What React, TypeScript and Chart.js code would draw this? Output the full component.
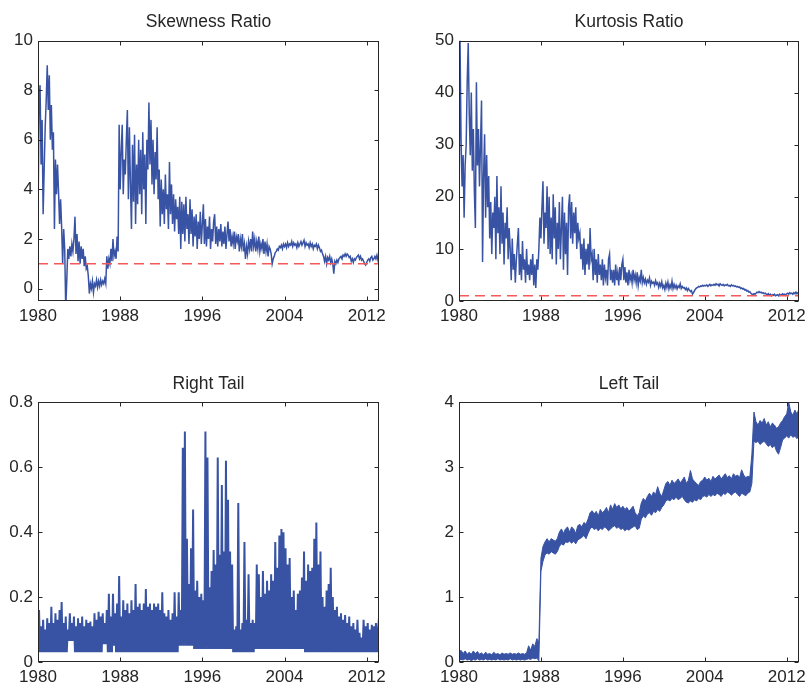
import React, { useEffect, useRef } from 'react';
import { Chart, registerables } from 'chart.js';

Chart.register(...registerables);

// Sampling grids of the series (years)
const FIRST_YEAR = 1980;
const LAST_YEAR = 2013.2;
const FINE_STEP = 0.1;
const COARSE_STEP = 0.2;

const yearTicks = [1980, 1988, 1996, 2004, 2012];
const skewTicks = [0, 2, 4, 6, 8, 10];
const kurtTicks = [0, 10, 20, 30, 40, 50];
const rightTailTicks = [0, 0.2, 0.4, 0.6, 0.8];
const leftTailTicks = [0, 1, 2, 3, 4];
const referenceLevel = 1;

const titles = ['Skewness Ratio', 'Kurtosis Ratio', 'Right Tail', 'Left Tail'];

// one row per year, sampled every 0.1 year
const skewnessRatio = [
  2.5, 7.6, 8.2, 5.0, 6.8, 3.0, 4.8, 6.5, 7.6, 9.0,
  7.2, 8.6, 6.0, 7.4, 5.6, 6.3, 2.4, 5.2, 3.8, 5.0,
  3.9, 2.6, 3.6, 2.5, 1.0, 2.4, 1.6, -0.8, 0.3, 1.6,
  1.2, 1.7, 1.3, 1.8, 1.5, 2.0, 2.9, 1.4, 2.2, 1.1,
  1.9, 1.0, 1.7, 1.2, 1.6, 0.9, 1.3, 0.8, 0.9, 0.5,
  -0.2, 0.2, 0.0, 0.3, -0.15, 0.2, 0.1, 0.35, 0.05, 0.3,
  0.1, 0.35, 0.15, 0.3, 0.2, 0.4, 0.2, 1.3, 0.8, 1.2,
  1.0, 1.6, 1.1, 2.0, 1.3, 1.5, 1.2, 2.1, 1.5, 6.6,
  4.0, 5.5, 6.6, 3.8, 5.2, 4.6, 6.0, 7.2, 3.6, 6.5,
  4.2, 2.4, 5.8, 3.5, 6.2, 2.6, 5.0, 3.4, 6.0, 3.8,
  5.6, 3.0, 6.3, 4.0, 5.4, 2.6, 6.0, 4.8, 7.5, 5.0,
  6.8, 4.2, 6.0, 3.8, 5.5, 4.4, 6.5, 3.6, 4.8, 2.5,
  4.4, 3.0, 4.0, 2.6, 4.6, 3.2, 3.8, 2.4, 5.1, 3.0,
  4.2, 2.6, 3.8, 2.3, 3.6, 2.8, 3.3, 2.2, 3.7, 1.6,
  3.5, 2.2, 3.4, 1.9, 3.7, 2.4, 3.0, 1.8, 3.6, 2.2,
  3.2, 1.7, 2.9, 2.1, 3.0, 1.6, 2.7, 2.0, 3.1, 1.8,
  2.6, 3.4, 1.8, 2.8, 1.7, 2.5, 2.0, 2.9, 1.6, 2.4,
  1.9, 2.7, 3.0, 1.8, 2.5, 1.7, 2.4, 1.9, 2.6, 1.7,
  2.3, 1.8, 2.5, 1.6, 2.2, 2.7, 1.9, 2.4, 1.7, 2.1,
  1.8, 2.3, 1.6, 2.1, 1.9, 2.2, 1.5, 2.0, 1.7, 2.2,
  1.5, 1.8, 1.2, 1.7, 1.4, 1.9, 1.6, 2.0, 1.5, 2.3,
  1.7, 2.0, 1.5, 1.9, 1.6, 2.1, 1.5, 1.8, 1.6, 2.0,
  1.4, 1.9, 1.5, 1.8, 1.3, 1.7, 1.6, 1.4, 1.0, 1.2,
  1.3, 1.45, 1.5, 1.6, 1.55, 1.7, 1.65, 1.75, 1.6, 1.8,
  1.7, 1.8, 1.65, 1.85, 1.7, 1.8, 1.75, 1.9, 1.7, 1.85,
  1.75, 1.8, 1.65, 1.85, 1.7, 1.8, 1.9, 1.75, 1.85, 1.95,
  1.7, 1.85, 1.75, 1.8, 1.65, 1.85, 1.7, 1.8, 1.6, 1.75,
  1.7, 1.8, 1.6, 1.75, 1.65, 1.5, 1.55, 1.4, 1.3, 1.1,
  1.3, 1.0, 1.25, 1.15, 1.3, 1.05, 1.2, 1.0, 0.6, 1.1,
  1.0, 1.15, 1.05, 1.2, 1.25, 1.3, 1.2, 1.35, 1.3, 1.4,
  1.3, 1.4, 1.35, 1.25, 1.3, 1.1, 1.2, 1.05, 1.2, 1.15,
  1.25, 1.3, 1.35, 1.2, 1.3, 1.15, 1.2, 1.1, 1.0, 0.95,
  1.05, 1.15, 1.2, 1.1, 1.25, 1.3, 1.15, 1.2, 1.3, 1.2,
  1.35, 1.15, 1.3,
];

// one row per year, sampled every 0.1 year
const kurtosisRatio = [
  14, 50, 31, 22, 28, 16, 26, 30, 42, 49.5,
  36, 28, 40, 25, 33, 21, 14, 42, 26, 33,
  22, 30, 38.5, 7.5, 24, 32, 16, 28, 18, 24,
  12, 19, 9, 17, 14, 20, 8, 24, 13, 18,
  9, 22, 11, 17, 7, 15, 12, 18, 8, 14,
  10, 4, 12, 6, 9, 3.5, 8, 11, 14, 5,
  9, 4, 11.5, 6, 8, 3.5, 10, 5, 7, 4,
  8, 5, 9, 3, 7, 2.5, 8, 6, 10, 16,
  12, 18, 23, 11, 17, 14, 22, 10, 20, 9,
  16, 8, 20.5, 12, 18, 7, 15, 10, 19, 8,
  14, 20, 6, 17, 9, 15, 5, 18, 20.5, 12,
  19, 11, 17, 13, 18, 10, 15, 12, 13, 8,
  11, 6, 12, 5, 10, 7, 11, 6, 14, 8,
  9, 4, 10, 5, 8, 3.5, 9, 5, 7, 4,
  8, 3, 7, 4.5, 6, 3, 8, 9, 4, 6,
  3.5, 6, 3, 7, 4, 5.5, 3, 6.5, 4, 7,
  8, 4, 6.5, 3.5, 5.5, 3, 6, 4, 5, 3.5,
  6, 4, 5, 3.5, 5.5, 3, 4.5, 3.8, 6, 3.5,
  4.5, 3.5, 4.2, 3.2, 4.0, 3.6, 4.4, 3.0, 3.8, 3.4,
  3.6, 3.0, 3.9, 3.2, 3.5, 2.6, 3.4, 2.8, 3.7, 2.5,
  3.0, 2.2, 3.4, 2.6, 3.6, 2.3, 3.1, 2.5, 3.8, 2.4,
  3.2, 2.5, 3.0, 2.3, 2.9, 2.6, 3.3, 2.4, 2.8, 2.5,
  2.6, 2.2, 2.5, 2.0, 2.4, 2.1, 1.8, 2.0, 1.3, 1.6,
  2.0, 2.3, 2.5, 2.6, 2.8, 2.7, 2.9, 2.8, 3.0, 2.85,
  3.0, 2.9, 3.1, 2.8, 3.0, 3.2, 2.9, 3.1, 3.0, 3.2,
  3.0, 3.3, 3.1, 3.2, 2.9, 3.3, 3.1, 3.0, 3.2, 2.9,
  3.1, 3.0, 3.2, 2.9, 3.0, 2.8, 3.1, 2.9, 3.0, 2.8,
  2.9, 2.7, 2.8, 2.6, 2.7, 2.4, 2.5, 2.3, 2.4, 2.1,
  2.2, 1.9, 2.0, 1.7, 1.8, 1.5, 1.3, 1.2, 1.4, 1.3,
  1.5, 1.7, 1.6, 1.8, 1.6, 1.7, 1.5, 1.6, 1.4, 1.5,
  1.3, 1.2, 1.4, 1.1, 1.3, 1.0, 1.2, 1.1, 1.3, 1.0,
  1.1, 1.2, 1.0, 1.3, 1.1, 1.2, 1.4, 1.2, 1.3, 1.1,
  1.4, 1.5, 1.3, 1.6, 1.4, 1.5, 1.3, 1.6, 1.4, 1.7,
  1.4, 1.6, 1.5,
];

// Right tail, every 0.1 year: the series swings between its floor and its peaks
// (two years per row)
const rightTail = [
  0.03, 0.16, 0.03, 0.11, 0.03, 0.13, 0.03, 0.10, 0.03, 0.135, 0.03, 0.12, 0.03, 0.17, 0.03, 0.12, 0.03, 0.15, 0.03, 0.13,
  0.03, 0.16, 0.03, 0.185, 0.03, 0.12, 0.03, 0.14, 0.03, 0.10, 0.065, 0.15, 0.065, 0.12, 0.065, 0.14, 0.03, 0.11, 0.03, 0.135,
  0.03, 0.12, 0.03, 0.14, 0.03, 0.11, 0.03, 0.13, 0.03, 0.12, 0.03, 0.125, 0.03, 0.11, 0.03, 0.15, 0.03, 0.13, 0.03, 0.155,
  0.03, 0.14, 0.03, 0.15, 0.055, 0.12, 0.055, 0.16, 0.03, 0.21, 0.03, 0.14, 0.03, 0.21, 0.05, 0.15, 0.03, 0.18, 0.03, 0.265,
  0.03, 0.14, 0.03, 0.19, 0.03, 0.16, 0.03, 0.18, 0.03, 0.15, 0.03, 0.19, 0.03, 0.16, 0.03, 0.24, 0.03, 0.17, 0.03, 0.18,
  0.03, 0.16, 0.03, 0.18, 0.03, 0.225, 0.03, 0.17, 0.03, 0.18, 0.03, 0.16, 0.03, 0.18, 0.03, 0.17, 0.03, 0.18, 0.03, 0.16,
  0.03, 0.215, 0.03, 0.15, 0.03, 0.14, 0.03, 0.16, 0.03, 0.13, 0.03, 0.15, 0.03, 0.215, 0.03, 0.14, 0.03, 0.215, 0.05, 0.16,
  0.05, 0.66, 0.05, 0.71, 0.05, 0.38, 0.05, 0.24, 0.05, 0.35, 0.05, 0.47, 0.04, 0.22, 0.04, 0.25, 0.04, 0.20, 0.04, 0.21,
  0.04, 0.19, 0.04, 0.71, 0.04, 0.63, 0.04, 0.23, 0.04, 0.28, 0.04, 0.345, 0.04, 0.30, 0.04, 0.63, 0.04, 0.33, 0.04, 0.545,
  0.04, 0.34, 0.04, 0.62, 0.04, 0.50, 0.04, 0.34, 0.04, 0.30, 0.03, 0.10, 0.03, 0.11, 0.03, 0.49, 0.03, 0.10, 0.03, 0.12,
  0.03, 0.37, 0.03, 0.13, 0.03, 0.27, 0.03, 0.12, 0.03, 0.13, 0.03, 0.12, 0.04, 0.30, 0.04, 0.27, 0.04, 0.20, 0.04, 0.28,
  0.04, 0.21, 0.04, 0.25, 0.04, 0.22, 0.04, 0.27, 0.04, 0.25, 0.04, 0.37, 0.04, 0.29, 0.04, 0.39, 0.04, 0.41, 0.04, 0.40,
  0.04, 0.35, 0.04, 0.30, 0.04, 0.32, 0.04, 0.20, 0.04, 0.22, 0.04, 0.16, 0.04, 0.21, 0.04, 0.22, 0.04, 0.26, 0.04, 0.34,
  0.03, 0.25, 0.03, 0.30, 0.03, 0.28, 0.03, 0.29, 0.03, 0.38, 0.03, 0.43, 0.03, 0.30, 0.03, 0.34, 0.03, 0.20, 0.03, 0.17,
  0.03, 0.22, 0.03, 0.24, 0.03, 0.29, 0.03, 0.20, 0.03, 0.16, 0.03, 0.17, 0.03, 0.14, 0.03, 0.15, 0.03, 0.13, 0.03, 0.145,
  0.03, 0.12, 0.03, 0.14, 0.03, 0.11, 0.03, 0.12, 0.03, 0.10, 0.03, 0.13, 0.03, 0.09, 0.03, 0.075, 0.03, 0.13, 0.03, 0.11,
  0.03, 0.12, 0.03, 0.10, 0.03, 0.115, 0.03, 0.11, 0.03, 0.12, 0.03, 0.10, 0.135,
];

// Left tail: upper and lower edge of the band, every 0.2 year
const leftTailHigh = [
  0.15, 0.18, 0.13, 0.17, 0.12, 0.15, 0.12, 0.17, 0.13, 0.16,
  0.12, 0.14, 0.11, 0.15, 0.12, 0.13, 0.11, 0.15, 0.12, 0.13,
  0.11, 0.14, 0.12, 0.13, 0.12, 0.14, 0.12, 0.13, 0.12, 0.14,
  0.12, 0.13, 0.12, 0.14, 0.25, 0.18, 0.28, 0.24, 0.36, 0.30,
  1.6, 1.78, 1.85, 1.9, 1.85, 1.9, 1.88, 1.86, 1.9, 2.0,
  2.05, 1.98, 2.05, 2.08, 2.0, 2.08, 2.05, 1.98, 2.1, 2.12,
  2.08, 2.15, 2.12, 2.2, 2.3, 2.33, 2.28, 2.32, 2.25, 2.35,
  2.3, 2.33, 2.38, 2.3, 2.42, 2.35, 2.44, 2.38, 2.42, 2.36,
  2.4, 2.35, 2.38, 2.32, 2.36, 2.4, 2.3, 2.25, 2.3, 2.45,
  2.52, 2.48, 2.55, 2.6, 2.55, 2.62, 2.58, 2.7, 2.6, 2.55,
  2.65, 2.75, 2.78, 2.72, 2.8, 2.75, 2.78, 2.82, 2.76, 2.8,
  2.85, 2.75, 2.8, 2.95, 2.82, 2.78, 2.75, 2.72, 2.78, 2.8,
  2.85, 2.8, 2.83, 2.78, 2.86, 2.82, 2.85, 2.88, 2.82, 2.86,
  2.9, 2.84, 2.87, 2.82, 2.9, 2.86, 2.88, 2.84, 2.96, 2.88,
  2.84, 2.86, 2.85, 3.2, 3.85, 3.7, 3.65, 3.72, 3.68, 3.75,
  3.65, 3.7, 3.62, 3.68, 3.65, 3.6, 3.62, 3.68, 3.72, 3.78,
  3.82, 4.0, 3.85, 3.8, 3.88, 3.82, 3.9,
];

const leftTailLow = [
  0.02, 0.04, 0.03, 0.05, 0.03, 0.04, 0.02, 0.04, 0.03, 0.05,
  0.03, 0.04, 0.03, 0.05, 0.03, 0.04, 0.03, 0.04, 0.03, 0.05,
  0.03, 0.04, 0.03, 0.04, 0.03, 0.05, 0.03, 0.04, 0.03, 0.04,
  0.03, 0.04, 0.03, 0.04, 0.05, 0.04, 0.06, 0.05, 0.06, 0.02,
  1.4, 1.55, 1.65, 1.68, 1.66, 1.7, 1.68, 1.66, 1.7, 1.78,
  1.82, 1.8, 1.85, 1.84, 1.86, 1.83, 1.86, 1.82, 1.88, 1.9,
  1.92, 1.95, 1.9, 1.98, 2.05, 2.08, 2.04, 2.06, 2.02, 2.06,
  2.04, 2.08, 2.06, 2.02, 2.05, 2.08, 2.1, 2.06, 2.08, 2.04,
  2.06, 2.02, 2.05, 2.03, 2.06, 2.08, 2.1, 2.04, 2.06, 2.2,
  2.25, 2.22, 2.28, 2.3, 2.26, 2.32, 2.3, 2.35, 2.32, 2.38,
  2.42, 2.48, 2.5, 2.48, 2.52, 2.5, 2.54, 2.5, 2.52, 2.55,
  2.5, 2.46, 2.45, 2.48, 2.46, 2.5, 2.48, 2.52, 2.5, 2.55,
  2.56, 2.54, 2.58, 2.55, 2.58, 2.56, 2.6, 2.58, 2.55, 2.6,
  2.58, 2.62, 2.6, 2.57, 2.6, 2.62, 2.58, 2.55, 2.6, 2.58,
  2.56, 2.6, 2.62, 2.75, 3.4, 3.38, 3.4, 3.35, 3.38, 3.4,
  3.36, 3.32, 3.35, 3.3, 3.34, 3.25, 3.2, 3.3, 3.42, 3.45,
  3.48, 3.45, 3.5, 3.46, 3.48, 3.44, 3.5,
];

const BLUE = '#3953a4';
const RED = '#f55a5a';
const INK = '#262626';
const FONT = "'Liberation Sans', Arial, Helvetica, sans-serif";

const toPoints = (vals: number[], step: number) =>
  vals.map((y, i) => ({ x: FIRST_YEAR + i * step, y }));

const levelLine = () => ({
  data: [
    { x: FIRST_YEAR, y: referenceLevel },
    { x: LAST_YEAR, y: referenceLevel },
  ],
  borderColor: RED,
  borderWidth: 1.5,
  borderDash: [10, 6],
  pointRadius: 0,
  fill: false,
});

const seriesLine = (vals: number[], step: number, extra: any = {}) => ({
  data: toPoints(vals, step),
  borderColor: BLUE,
  backgroundColor: BLUE,
  borderWidth: 1.2,
  pointRadius: 0,
  fill: false,
  ...extra,
});

// Box outline, inward tick marks on all four sides, and the panel title
const framePlugin = {
  id: 'matlabFrame',
  afterDraw(chart: any, _args: any, opts: any) {
    const { ctx, chartArea: a, scales } = chart;
    const L = Math.round(a.left) + 0.5;
    const R = Math.round(a.right) - 0.5;
    const T = Math.round(a.top) + 0.5;
    const B = Math.round(a.bottom) - 0.5;
    const len = 4;
    ctx.save();
    ctx.strokeStyle = INK;
    ctx.lineWidth = 1;
    ctx.strokeRect(L, T, R - L, B - T);
    ctx.beginPath();
    for (const t of scales.x.ticks) {
      const px = Math.round(scales.x.getPixelForValue(t.value)) + 0.5;
      ctx.moveTo(px, B);
      ctx.lineTo(px, B - len);
      ctx.moveTo(px, T);
      ctx.lineTo(px, T + len);
    }
    for (const t of scales.y.ticks) {
      const py = Math.round(scales.y.getPixelForValue(t.value)) + 0.5;
      ctx.moveTo(L, py);
      ctx.lineTo(L + len, py);
      ctx.moveTo(R, py);
      ctx.lineTo(R - len, py);
    }
    ctx.stroke();
    ctx.fillStyle = INK;
    ctx.font = `17.5px ${FONT}`;
    ctx.textAlign = 'center';
    ctx.textBaseline = 'alphabetic';
    ctx.fillText(opts.text, (a.left + a.right) / 2, opts.baseline);
    ctx.restore();
  },
};

type PanelSpec = {
  left: number;
  top: number;
  w: number;
  h: number;
  padTop: number;
  padRight: number;
  yAxisW: number;
  xAxisH: number;
  titleBaseline: number;
  title: string;
  yMin: number;
  yMax: number;
  yTicks: number[];
  datasets: any[];
};

const tickFont = { family: FONT, size: 17 };

function buildConfig(spec: PanelSpec): any {
  return {
    type: 'line',
    data: { datasets: spec.datasets },
    options: {
      animation: false,
      responsive: false,
      events: [],
      layout: { padding: { top: spec.padTop, right: spec.padRight, left: 0, bottom: 0 } },
      plugins: {
        legend: { display: false },
        tooltip: { enabled: false },
        matlabFrame: { text: spec.title, baseline: spec.titleBaseline },
      },
      scales: {
        x: {
          type: 'linear',
          min: FIRST_YEAR,
          max: LAST_YEAR,
          grid: { display: false, drawTicks: false },
          border: { display: false },
          ticks: {
            color: INK,
            font: tickFont,
            padding: 5,
            maxRotation: 0,
            autoSkip: false,
            callback: (v: number) => String(v),
          },
          afterBuildTicks: (s: any) => {
            s.ticks = yearTicks.map((value) => ({ value }));
          },
          afterFit: (s: any) => {
            s.height = spec.xAxisH;
          },
        },
        y: {
          type: 'linear',
          min: spec.yMin,
          max: spec.yMax,
          grid: { display: false, drawTicks: false },
          border: { display: false },
          ticks: {
            color: INK,
            font: tickFont,
            padding: 5,
            autoSkip: false,
            callback: (v: number) => String(Math.round(v * 10) / 10),
          },
          afterBuildTicks: (s: any) => {
            s.ticks = spec.yTicks.map((value) => ({ value }));
          },
          afterFit: (s: any) => {
            s.width = spec.yAxisW;
          },
        },
      },
    },
    plugins: [framePlugin],
  };
}

function Panel({ spec }: { spec: PanelSpec }) {
  const ref = useRef<HTMLCanvasElement>(null);
  useEffect(() => {
    const chart = new Chart(ref.current as HTMLCanvasElement, buildConfig(spec));
    return () => chart.destroy();
  }, []);
  return (
    <canvas
      ref={ref}
      width={spec.w}
      height={spec.h}
      style={{ position: 'absolute', left: spec.left, top: spec.top, width: spec.w, height: spec.h }}
    />
  );
}

const panels: PanelSpec[] = [
  {
    left: 0, top: 0, w: 405, h: 340,
    padTop: 40.5, padRight: 26, yAxisW: 38, xAxisH: 39, titleBaseline: 27.3,
    title: titles[0], yMin: -0.5, yMax: 10, yTicks: skewTicks,
    datasets: [levelLine(), seriesLine(skewnessRatio, FINE_STEP, { borderWidth: 1.5 })],
  },
  {
    left: 405, top: 0, w: 406, h: 340,
    padTop: 40.5, padRight: 10.7, yAxisW: 54, xAxisH: 39, titleBaseline: 27.3,
    title: titles[1], yMin: 0, yMax: 50, yTicks: kurtTicks,
    datasets: [levelLine(), seriesLine(kurtosisRatio, FINE_STEP, { borderWidth: 1.5 })],
  },
  {
    left: 0, top: 360, w: 405, h: 327,
    padTop: 42.3, padRight: 26, yAxisW: 38, xAxisH: 25, titleBaseline: 29.3,
    title: titles[2], yMin: 0, yMax: 0.8, yTicks: rightTailTicks,
    datasets: [seriesLine(rightTail, FINE_STEP, { borderWidth: 2 })],
  },
  {
    left: 405, top: 360, w: 406, h: 327,
    padTop: 42.3, padRight: 10.7, yAxisW: 54, xAxisH: 25, titleBaseline: 29.3,
    title: titles[3], yMin: 0, yMax: 4, yTicks: leftTailTicks,
    datasets: [
      seriesLine(leftTailHigh, COARSE_STEP, { fill: '+1', borderWidth: 1 }),
      seriesLine(leftTailLow, COARSE_STEP, { borderWidth: 1 }),
    ],
  },
];

export default function App() {
  return (
    <div
      style={{
        position: 'absolute',
        left: 0,
        top: 0,
        width: 811,
        height: 687,
        background: '#ffffff',
        overflow: 'hidden',
      }}
    >
      {panels.map((p, i) => (
        <Panel key={i} spec={p} />
      ))}
    </div>
  );
}
